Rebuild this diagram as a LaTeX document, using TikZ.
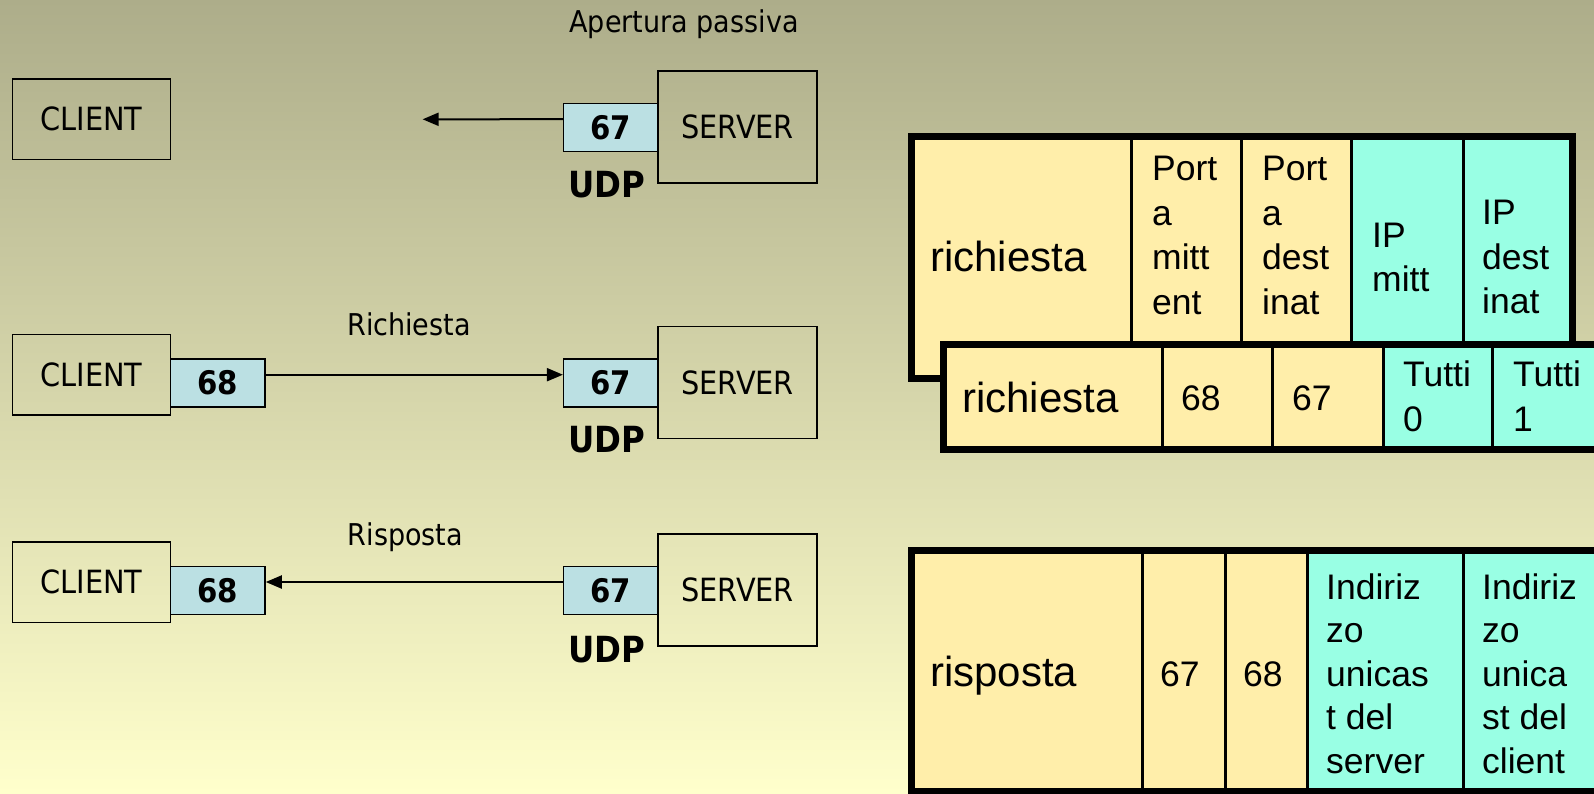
\documentclass[tikz,border=0pt]{standalone}
\usepackage{fontspec}
\setmainfont{Liberation Sans}
\newfontfamily\tah[FakeStretch=0.9]{DejaVu Sans}
\usetikzlibrary{arrows.meta,calc}
\definecolor{bgtop}{RGB}{173,173,138}
\definecolor{bgbot}{RGB}{255,255,204}
\definecolor{portblue}{RGB}{187,224,227}
\definecolor{cellY}{RGB}{255,238,170}
\definecolor{cellC}{RGB}{153,255,228}
\newcommand\cellt[1]{\begin{tabular}[t]{@{}l@{}}#1\end{tabular}}
\tikzset{
  clientbox/.style={draw=black, line width=1.5pt, inner sep=0, minimum width=158pt, minimum height=80.5pt, font=\tah\fontsize{32}{38}\selectfont},
  serverbox/.style={draw=black, line width=1.5pt, inner sep=0, minimum width=159pt, minimum height=112pt, font=\tah\fontsize{32}{38}\selectfont},
  portbox/.style={draw=black, line width=1.5pt, fill=portblue, inner sep=0, minimum width=94.5pt, minimum height=48pt, font=\tah\bfseries\fontsize{32.5}{38}\selectfont},
  udplbl/.style={anchor=base, inner sep=0, font=\tah\bfseries\fontsize{36}{42}\selectfont},
  msglbl/.style={anchor=base, inner sep=0, font=\tah\fontsize{30}{36}\selectfont},
  msgarrow/.style={line width=2pt, -{Triangle[length=16pt,width=13pt]}},
  cellbig/.style={anchor=base west, inner sep=0, font=\fontsize{42}{50}\selectfont},
  cellsm/.style={anchor=base west, inner sep=0, font=\fontsize{35.5}{44.7}\selectfont},
  cellsmb/.style={anchor=base west, inner sep=0, font=\fontsize{35.5}{43.5}\selectfont},
  sepline/.style={line width=3pt},
  frameline/.style={line width=7pt, line join=miter},
}
\begin{document}
\begin{tikzpicture}[x=1pt,y=-1pt]
\useasboundingbox (0,0) rectangle (1594,793);
\clip (0,0) rectangle (1594,793);
\shade[top color=bgtop,bottom color=bgbot] (0,0) rectangle (1594,793);

% ---------- row 1: passive open
\node[msglbl] (lab1) at (684,32.7) {Apertura passiva};
\node[clientbox] (c1) at (91.5,119.2) {CLIENT};
\node[serverbox] (s1) at (737.5,127.2) {SERVER};
\node[portbox] (p1) at (610.9,127.5) {67};
\node[udplbl] (u1) at (606.5,197) {UDP};
\coordinate (t1) at (422.6,119.3);
\draw[msgarrow] (p1.west |- c1.center) -- (t1);

% ---------- row 2: request
\node[msglbl] (lab2) at (409,335) {Richiesta};
\node[clientbox] (c2) at (91.5,374.7) {CLIENT};
\node[portbox] (q2) at (217.75,382.9) {68};
\node[serverbox] (s2) at (737.5,382.5) {SERVER};
\node[portbox] (p2) at (610.9,382.9) {67};
\node[udplbl] (u2) at (606.5,452) {UDP};
\draw[msgarrow] (q2.east |- c2.center) -- (p2.west |- c2.center);

% ---------- row 3: reply
\node[msglbl] (lab3) at (405.4,545) {Risposta};
\node[clientbox] (c3) at (91.5,582) {CLIENT};
\node[portbox] (q3) at (217.75,590.5) {68};
\node[serverbox] (s3) at (737.5,589.9) {SERVER};
\node[portbox] (p3) at (610.9,590.5) {67};
\node[udplbl] (u3) at (606.5,662) {UDP};
\draw[msgarrow] (p3.west |- c3.center) -- (q3.east |- c3.center);

% ---------- table 1 (back)
\fill[cellY] (911.5,136) rectangle (1351,378);
\fill[cellC] (1351,136) rectangle (1572.5,378);
\foreach \xx in {1131,1241,1351,1463} \draw[sepline] (\xx,136) -- (\xx,378);
\draw[frameline] (911.5,136) rectangle (1572.5,378);
\node[cellbig] (a1) at (930,271.7) {richiesta};
\node[cellsm] (a2) at (1152,180.5) {\cellt{Port\\a\\mitt\\ent}};
\node[cellsm] (a3) at (1262,180.5) {\cellt{Port\\a\\dest\\inat}};
\node[cellsm] (a4) at (1372,247) {\cellt{IP\\mitt}};
\node[cellsm] (a5) at (1482,224.5) {\cellt{IP\\dest\\inat}};

% ---------- table 2 (front)
\fill[cellY] (943.5,344) rectangle (1383,449.5);
\fill[cellC] (1383,344) rectangle (1650,449.5);
\foreach \xx in {1162,1272.5,1383,1492.5,1603} \draw[sepline] (\xx,344) -- (\xx,449.5);
\draw[frameline] (943.5,344) rectangle (1650,449.5);
\node[cellbig] (b1) at (962,412.5) {richiesta};
\node[cellsm] (b2) at (1181,410.5) {68};
\node[cellsm] (b3) at (1292,410.5) {67};
\node[cellsm] (b4) at (1403,386.5) {\cellt{Tutti\\0}};
\node[cellsm] (b5) at (1513,386.5) {\cellt{Tutti\\1}};

% ---------- table 3 (reply)
\fill[cellY] (911,550) rectangle (1307,791);
\fill[cellC] (1307,550) rectangle (1650,791);
\foreach \xx in {1142,1225,1307,1463} \draw[sepline] (\xx,550) -- (\xx,791);
\draw[frameline] (911,550) rectangle (1650,791);
\node[cellbig] (r1) at (930,686.7) {risposta};
\node[cellsm] (r2) at (1160,686) {67};
\node[cellsm] (r3) at (1243,686) {68};
\node[cellsmb] (r4) at (1326,599) {\cellt{Indiriz\\zo\\unicas\\t del\\server}};
\node[cellsmb] (r5) at (1482,599) {\cellt{Indiriz\\zo\\unica\\st del\\client}};
\end{tikzpicture}
\end{document}
